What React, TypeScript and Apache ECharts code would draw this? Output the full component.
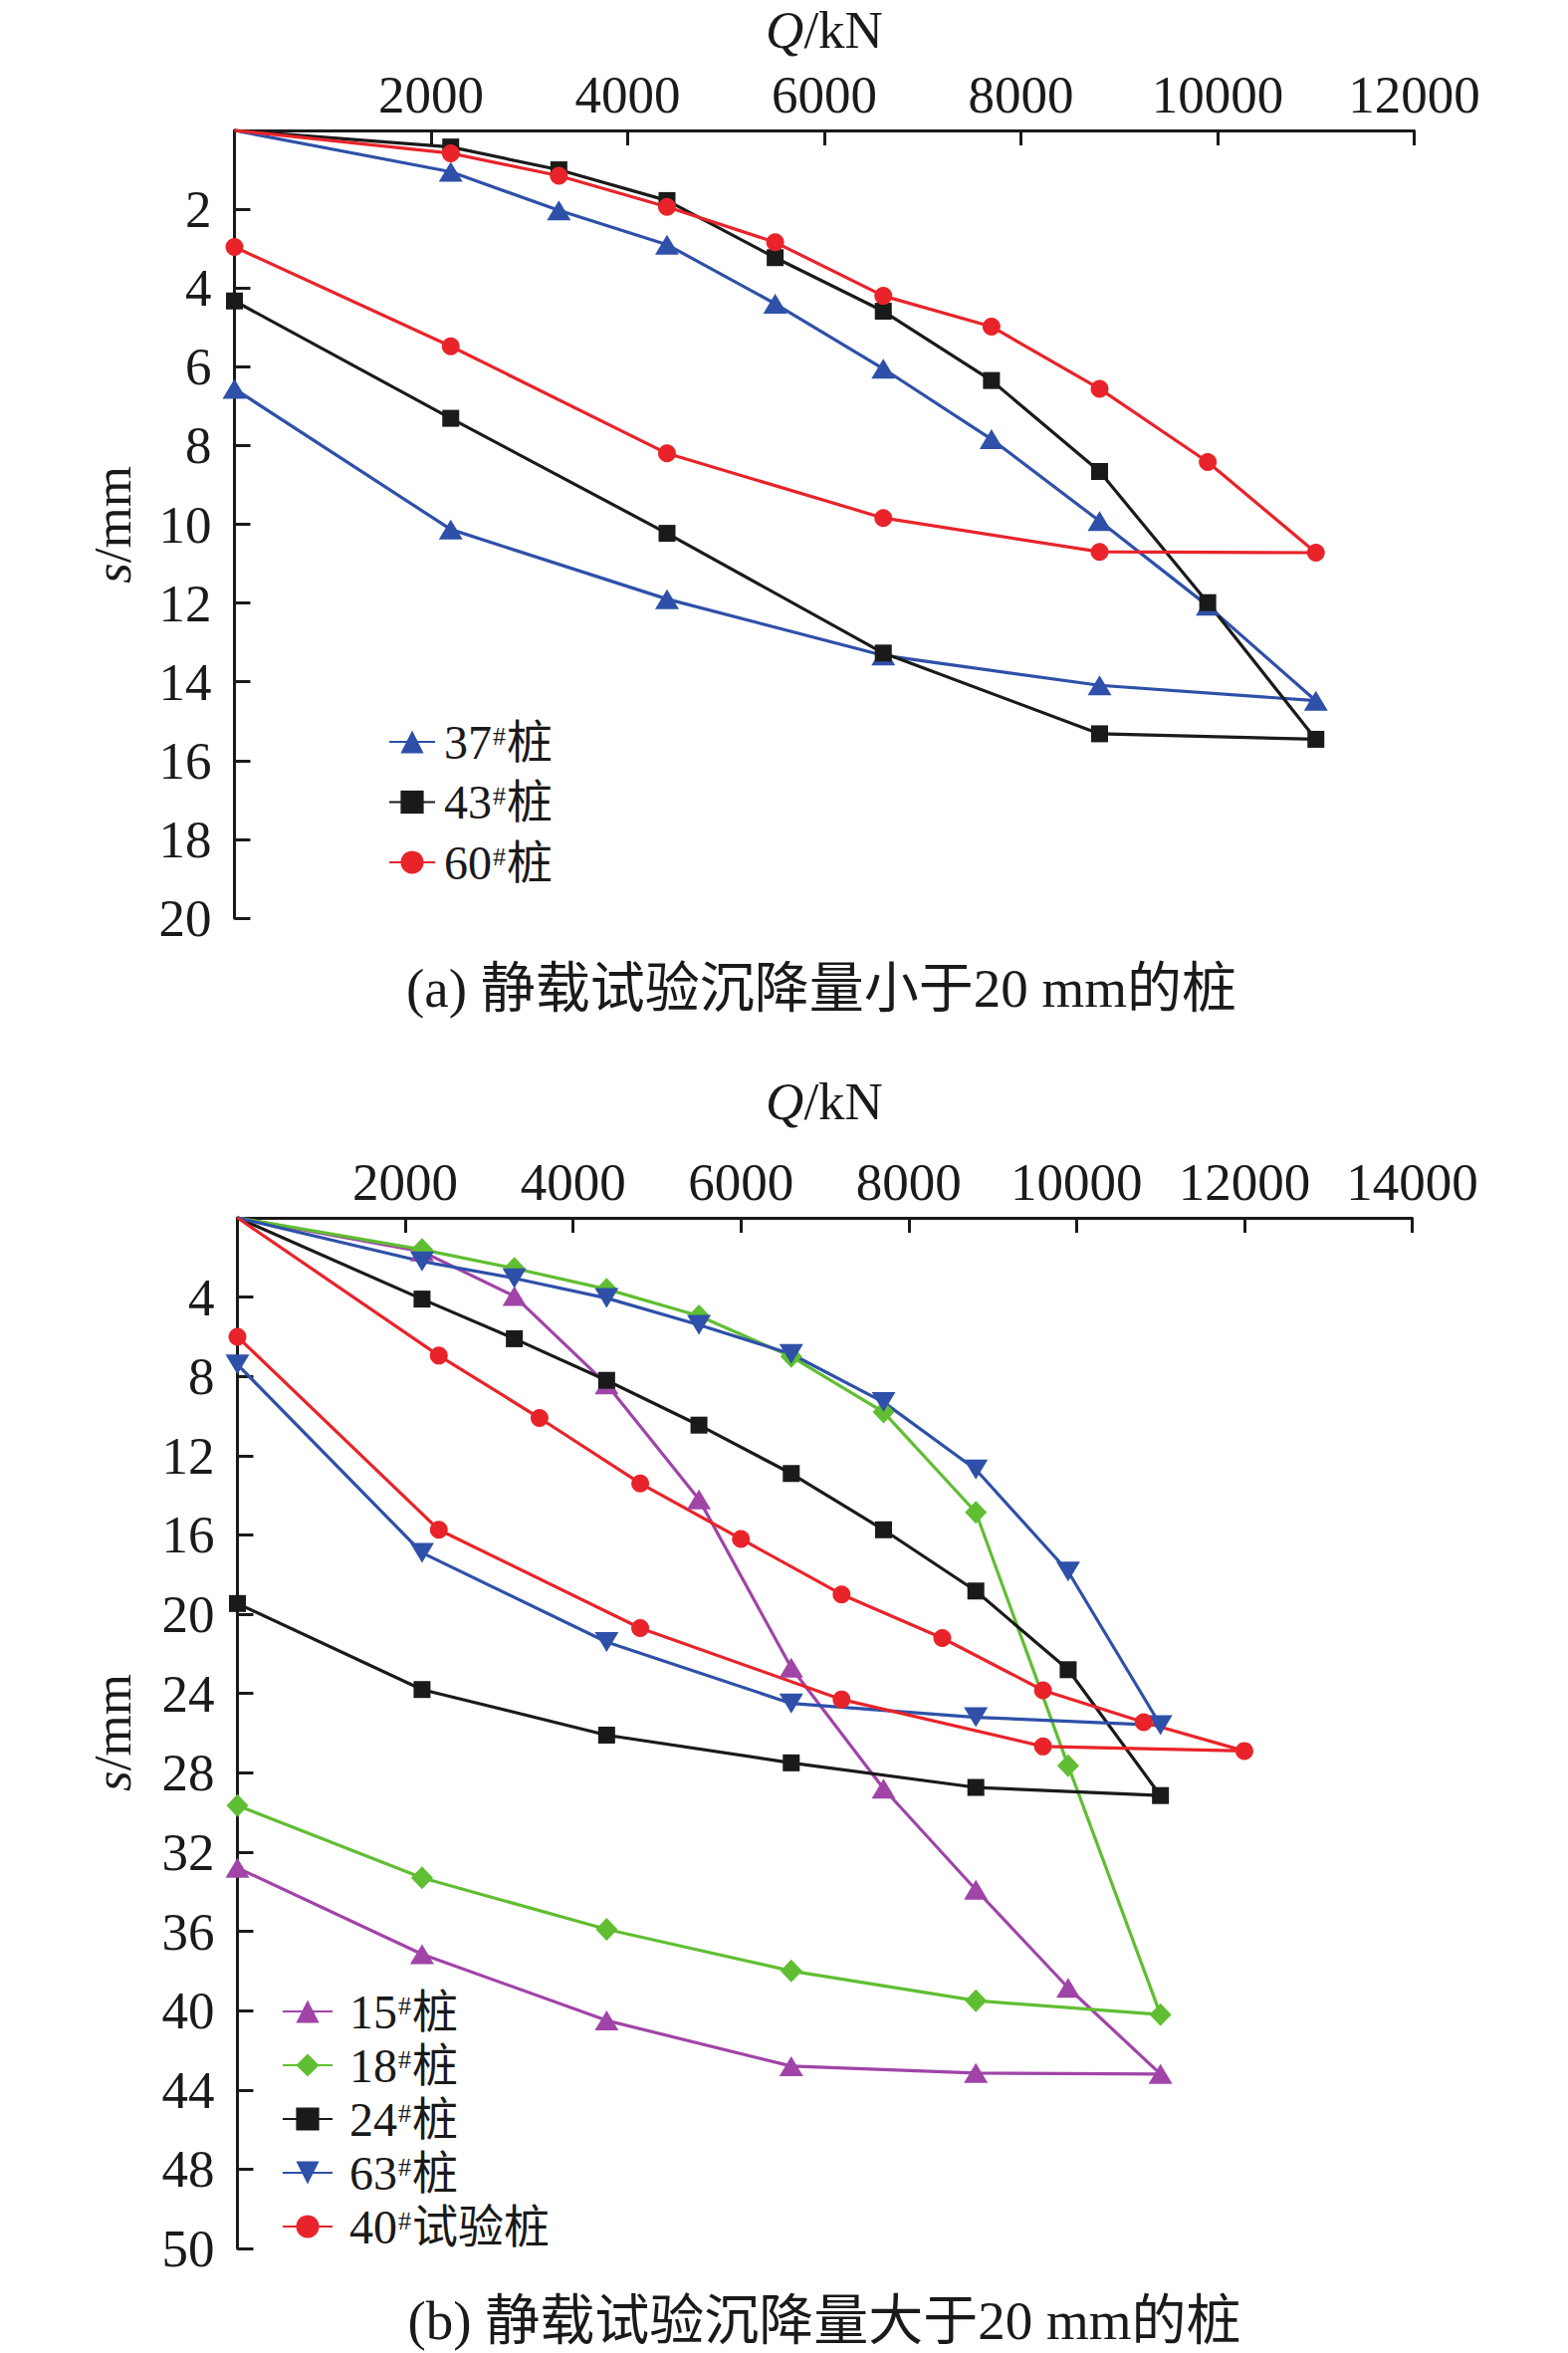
import React, { useEffect, useRef } from "react";
import * as echarts from "echarts";

const SERIF = '"Liberation Serif", "Times New Roman", serif';
const MIXED = '"Liberation Serif", "Noto Sans CJK SC", serif';

// ---------- (a) settlement < 20 mm ----------
const loadsA = [0, 2200, 3300, 4400, 5500, 6600, 7700, 8800, 9900, 11000, 8800, 6600, 4400, 2200, 0];
const pile37 = [0, 1.05, 2.03, 2.9, 4.4, 6.05, 7.84, 9.92, 12.07, 14.48, 14.09, 13.33, 11.9, 10.13, 6.56];
const pile43 = [0, 0.42, 1.0, 1.78, 3.23, 4.59, 6.35, 8.66, 11.99, 15.46, 15.32, 13.27, 10.23, 7.31, 4.33];
const pile60 = [0, 0.58, 1.15, 1.94, 2.84, 4.2, 4.98, 6.56, 8.42, 10.72, 10.7, 9.84, 8.2, 5.48, 2.96];
const namesA = ["37#桩", "43#桩", "60#桩"];

// ---------- (b) settlement > 20 mm ----------
const loadsB = [0, 2200, 3300, 4400, 5500, 6600, 7700, 8800, 9900, 11000, 8800, 6600, 4400, 2200, 0];
const loads40 = [0, 2400, 3600, 4800, 6000, 7200, 8400, 9600, 10800, 12000, 9600, 7200, 4800, 2400, 0];
const pile15 = [0, 1.7, 3.95, 8.4, 14.2, 22.7, 28.8, 33.9, 38.85, 43.2, 43.15, 42.8, 40.5, 37.15, 32.8];
const pile18 = [0, 1.6, 2.55, 3.6, 4.95, 7.0, 9.8, 14.86, 27.64, 40.2, 39.5, 38.0, 35.9, 33.3, 29.65];
const pile24 = [0, 4.1, 6.1, 8.2, 10.46, 12.9, 15.74, 18.83, 22.8, 29.15, 28.74, 27.5, 26.1, 23.8, 19.46];
const pile63 = [0, 2.2, 3.05, 4.05, 5.4, 6.87, 9.3, 12.7, 17.85, 25.6, 25.2, 24.5, 21.4, 16.9, 7.4];
const pile40 = [0, 6.95, 10.1, 13.4, 16.2, 19.0, 21.2, 23.84, 25.45, 26.9, 26.67, 24.3, 20.7, 15.74, 6.0];
const namesB = ["15#桩", "18#桩", "24#桩", "63#桩", "40#试验桩"];

const captionA = "(a) 静载试验沉降量小于20 mm的桩";
const captionB = "(b) 静载试验沉降量大于20 mm的桩";

const BLUE = "#2E50A8";
const BLACK = "#1A1A1A";
const RED = "#E8242A";
const PURPLE = "#A044A8";
const GREEN = "#60BE32";
const INV_TRI = "path://M0,0L22,0L11,19Z";

function mk(name: string, loads: number[], vals: number[], color: string, symbol: string, size: any, idx: number) {
  return {
    type: "line",
    name,
    xAxisIndex: idx,
    yAxisIndex: idx,
    // the origin point carries no marker in the reference
    data: loads.map((q, i) => (i === 0 ? { value: [q, vals[i]], symbol: "none" } : [q, vals[i]])),
    symbol,
    symbolSize: size,
    showAllSymbol: true,
    clip: false,
    lineStyle: { color, width: 3.2 },
    itemStyle: { color },
    emphasis: { disabled: true },
  };
}

function legendRich(padLeft: number) {
  return {
    n: { fontFamily: SERIF, fontSize: 48, lineHeight: 50, color: BLACK, padding: [0, 0, 0, padLeft] },
    s: { fontFamily: SERIF, fontSize: 26, lineHeight: 26, verticalAlign: "top", color: BLACK, padding: [6, 1, 0, 1] },
    c: { fontFamily: MIXED, fontSize: 46, lineHeight: 50, color: BLACK },
  };
}
const legendFmt = (name: string) => {
  const m = name.match(/^(\d+)#(.+)$/);
  return m ? `{n|${m[1]}}{s|#}{c|${m[2]}}` : name;
};

function xAxis(idx: number, max: number) {
  return {
    type: "value",
    gridIndex: idx,
    position: "top",
    min: 0,
    max,
    interval: 2000,
    axisLine: { show: true, lineStyle: { color: BLACK, width: 3 } },
    axisTick: { show: true, inside: true, length: 15, lineStyle: { color: BLACK, width: 3 } },
    splitLine: { show: false },
    axisLabel: {
      margin: 10,
      color: BLACK,
      fontFamily: SERIF,
      fontSize: 53,
      formatter: (v: number) => (v === 0 ? "" : String(v)),
    },
  };
}

function yAxis(idx: number, max: number, interval: number, fmt: (v: number) => string) {
  return {
    type: "value",
    gridIndex: idx,
    inverse: true,
    min: 0,
    max,
    interval,
    axisLine: { show: true, lineStyle: { color: BLACK, width: 3 } },
    axisTick: { show: true, inside: true, length: 16, lineStyle: { color: BLACK, width: 3 } },
    splitLine: { show: false },
    axisLabel: {
      margin: 23,
      color: BLACK,
      fontFamily: SERIF,
      fontSize: 53,
      formatter: fmt,
    },
  };
}

function textEl(text: string, x: number, y: number, opts: any = {}) {
  return {
    type: "text",
    x,
    y,
    rotation: opts.rotation || 0,
    silent: true,
    style: {
      text,
      fill: BLACK,
      fontFamily: opts.fontFamily || SERIF,
      fontSize: opts.fontSize || 53,
      align: "center",
      verticalAlign: "middle",
      rich: opts.rich,
    },
  };
}

export default function App() {
  const ref = useRef<HTMLDivElement>(null);

  useEffect(() => {
    document.body.style.margin = "0";
    if (!ref.current) return;
    const chart = echarts.init(ref.current, undefined, { renderer: "svg" });
    const italicRich = {
      i: { fontFamily: SERIF, fontSize: 53, fontStyle: "italic", color: BLACK },
      r: { fontFamily: SERIF, fontSize: 53, color: BLACK },
    };
    chart.setOption({
      animation: false,
      backgroundColor: "#ffffff",
      grid: [
        { left: 235.5, top: 131, width: 1185, height: 791 },
        { left: 238.5, top: 1223, width: 1180, height: 1035 },
      ],
      xAxis: [xAxis(0, 12000), xAxis(1, 14000)],
      yAxis: [
        yAxis(0, 20, 2, (v: number) => (v === 0 ? "" : String(v))),
        yAxis(1, 52, 4, (v: number) => (v === 0 ? "" : v === 52 ? "50" : String(v))),
      ],
      legend: [
        {
          data: namesA,
          orient: "vertical",
          left: 390,
          top: 720,
          itemWidth: 46,
          itemHeight: 29,
          itemGap: 11.5,
          padding: 0,
          selectedMode: false,
          formatter: legendFmt,
          textStyle: { color: BLACK, fontSize: 48, rich: legendRich(4) },
        },
        {
          data: namesB,
          orient: "vertical",
          left: 283,
          top: 1995,
          itemWidth: 50,
          itemHeight: 29,
          itemGap: 5,
          padding: 0,
          selectedMode: false,
          formatter: legendFmt,
          textStyle: { color: BLACK, fontSize: 48, rich: legendRich(12) },
        },
      ],
      series: [
        mk(namesA[0], loadsA, pile37, BLUE, "triangle", [24, 20], 0),
        mk(namesA[1], loadsA, pile43, BLACK, "rect", 17, 0),
        mk(namesA[2], loadsA, pile60, RED, "circle", 18, 0),
        mk(namesB[0], loadsB, pile15, PURPLE, "triangle", [24, 20], 1),
        mk(namesB[1], loadsB, pile18, GREEN, "diamond", [22, 23], 1),
        mk(namesB[2], loadsB, pile24, BLACK, "rect", 17, 1),
        mk(namesB[3], loadsB, pile63, BLUE, INV_TRI, [24, 20], 1),
        mk(namesB[4], loads40, pile40, RED, "circle", 18, 1),
      ],
      graphic: [
        textEl("{i|Q}{r|/kN}", 828, 30, { rich: italicRich }),
        textEl("{i|Q}{r|/kN}", 828, 1106, { rich: italicRich }),
        textEl("{i|s}{r|/mm}", 113, 527, { rich: italicRich, rotation: Math.PI / 2 }),
        textEl("{i|s}{r|/mm}", 113, 1740, { rich: italicRich, rotation: Math.PI / 2 }),
        textEl(captionA, 825, 992, { fontFamily: MIXED, fontSize: 55 }),
        textEl(captionB, 828, 2330, { fontFamily: MIXED, fontSize: 55 }),
      ],
    });
    return () => chart.dispose();
  }, []);

  return <div ref={ref} style={{ width: 1575, height: 2363 }} />;
}
